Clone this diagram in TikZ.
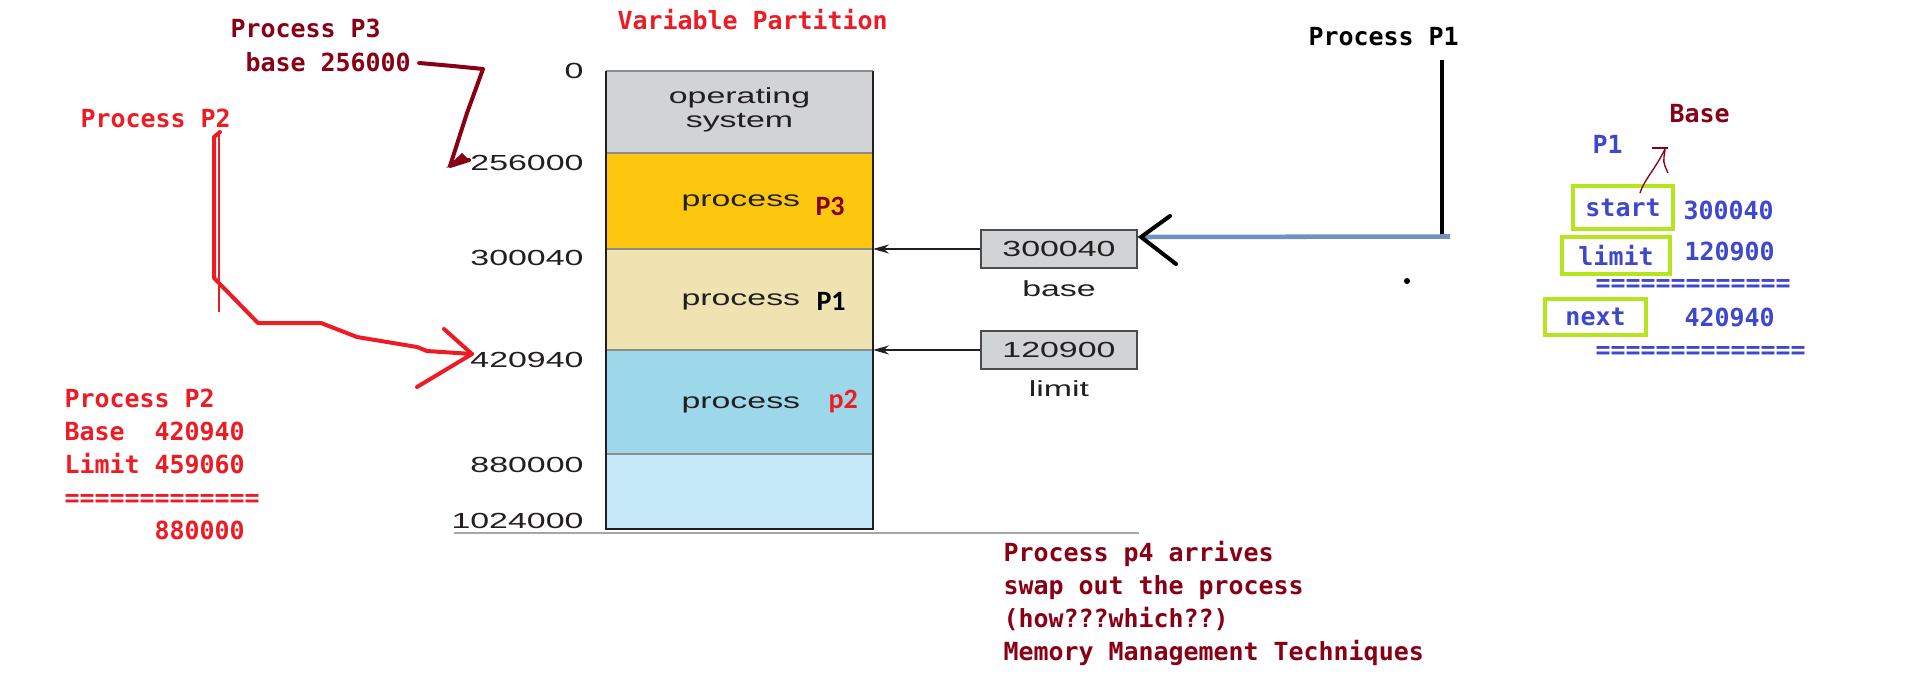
\documentclass[tikz,border=0pt]{standalone}
\usepackage{fontspec}
\usetikzlibrary{arrows.meta,positioning}
\newfontfamily\codefont{DejaVu Sans Mono}
\newfontfamily\figfont{Liberation Sans}[FakeStretch=1.55]
\newfontfamily\calfont{Carlito}
\definecolor{penred}{HTML}{ED1C24}
\definecolor{pendark}{HTML}{880015}
\definecolor{penblue}{HTML}{3F48CC}
\definecolor{penlime}{HTML}{B5E61D}
\definecolor{wire}{HTML}{7092BE}
\definecolor{osgray}{HTML}{D1D3D4}
\definecolor{pthree}{HTML}{FDC70F}
\definecolor{pone}{HTML}{EFE3B1}
\definecolor{ptwo}{HTML}{9CD8E9}
\definecolor{pfree}{HTML}{C6E9F9}
\definecolor{ink}{HTML}{231F20}

\tikzset{every picture/.style={line width=0.75pt}}
\tikzset{
  memtxt/.style={font=\figfont\fontsize{16.4}{18}\selectfont, text=ink, inner sep=0pt},
  note/.style={font=\codefont\bfseries\fontsize{18.7}{24.75}\selectfont, inner sep=0pt, anchor=west, align=left},
  pname/.style={font=\calfont\bfseries\fontsize{21}{24}\selectfont, inner sep=0pt, anchor=west},
  regbox/.style={memtxt, draw=black!70, fill=osgray, line width=1.2pt, minimum width=117pt, minimum height=28.5pt},
  tag/.style={note, anchor=center, draw=penlime, line width=3pt, text=penblue},
  regline/.style={draw=ink, line width=1.2pt, -{Stealth[length=12pt,width=6.75pt]}},
  pen/.style={line width=3pt, line cap=round, line join=round},
}

\begin{document}
\begin{tikzpicture}[x=0.75pt,y=0.75pt,yscale=-1,xscale=1]
\useasboundingbox (0,0) rectangle (1914,699);

% memory
\fill[osgray] (606,71) rectangle (873,153);
\fill[pthree] (606,153) rectangle (873,249);
\fill[pone] (606,249) rectangle (873,350);
\fill[ptwo] (606,350) rectangle (873,454);
\fill[pfree] (606,454) rectangle (873,529);
\foreach \y in {71,153,249,350,454}
  \draw[black!45, line width=1.5pt] (606,\y) -- (873,\y);
\draw[ink, line width=2pt] (606,71) -- (606,529) -- (873,529) -- (873,71);
\draw[black!35, line width=1.2pt] (454,533) -- (1139,533);
\coordinate (p1top) at (873,249);
\coordinate (p2top) at (873,350);

\node[memtxt, align=center] (ostxt) at (739.5,110) {operating\\system};
\node[memtxt, anchor=west] (t3) at (681,203) {process};
\node[pname, text=pendark] (n3) at (815,206) {P3};
\node[memtxt, anchor=west] (t1) at (681,302) {process};
\node[pname] (n1) at (816,301) {P1};
\node[memtxt, anchor=west] (t2) at (681,405) {process};
\node[pname, text=penred] (n2) at (828,402) {p2};

\node[memtxt, anchor=east] (a0) at (584,71) {0};
\node[memtxt, anchor=east] (a256) at (584,163) {256000};
\node[memtxt, anchor=east] (a300) at (584,258) {300040};
\node[memtxt, anchor=east] (a420) at (584,360) {420940};
\node[memtxt, anchor=east] (a880) at (584,465) {880000};
\node[memtxt, anchor=east] (a1024) at (584,521) {1024000};

% registers
\node[regbox] (basereg) at (1059,249) {300040};
\node[memtxt, below=8.5pt of basereg] (baselbl) {base};
\node[regbox] (limitreg) at (1059,350) {120900};
\node[memtxt, below=8pt of limitreg] (limitlbl) {limit};
\draw[regline] (basereg.west) -- (p1top);
\draw[regline] (limitreg.west) -- (p2top);

% notes
\node[note, text=penred] (title) at (617,20) {Variable Partition};
\node[note, text=pendark] (p3name) at (230,28) {Process P3};
\node[note, text=pendark] (p3base) at (245,62) {base 256000};
\node[note, text=penred] (p2name) at (80,118) {Process P2};
\node[note, text=penred] (p2note) at (64,464) {Process P2\\Base\ \ 420940\\Limit 459060\\=============\\\phantom{888888}880000};
\node[note, text=pendark] (p4note) at (1003,603) {Process p4 arrives\\swap out the process\\(how???which??)\\Memory Management Techniques};
\node[note] (p1name) at (1308,37) {Process P1};

% P1 register card
\node[note, text=pendark] (basehd) at (1669,114) {Base};
\node[note, text=penblue] (p1hd) at (1592,144) {P1};
\node[tag, minimum width=75pt, minimum height=32.25pt] (tstart) at (1623,207.5) {start};
\node[note, text=penblue] (vstart) at (1683,210) {300040};
\node[tag, minimum width=81pt, minimum height=27.75pt] (tlimit) at (1616,255.5) {limit};
\node[note, text=penblue] (vlimit) at (1684,251) {120900};
\node[note, text=penblue] (eqa) at (1595,285) {=============};
\node[tag, minimum width=75.75pt, minimum height=27pt] (tnext) at (1595.5,317) {next};
\node[note, text=penblue] (vnext) at (1684,317) {420940};
\node[note, text=penblue] (eqb) at (1595,352) {==============};
\draw[pendark, line width=1pt] (tstart.north) ++(17,9) .. controls (1644,180) and (1656,168) .. (1665,149);
\draw[pendark, line width=1pt] (1652,148) -- (1668,148);
\draw[pendark, line width=1pt] (1665,150) .. controls (1663,162) .. (1668,173);

% hand drawn arrows
\coordinate (tip3) at (469,160);
\draw[pen, pendark] (p3base.east) ++(8,1) -- (453,66) -- (483,69) -- (467,113) -- (450,166) -- (tip3);
\fill[pendark] (446,168) -- (462,153) -- (tip3) -- cycle;

\coordinate (tip2) at (472,354);
\draw[pen, penred] (220,132) -- (214,137) -- (214,278) -- (258,323) -- (321,323) -- (357,337) -- (417,347) -- (427,351) -- (tip2);
\draw[pen, penred] (444,329) -- (tip2) -- (417,387);
\draw[penred, line width=0.8pt] (219,133) -- (219,312);

\coordinate (ptip) at (1141,237);
\draw[black, line width=3.5pt] (1442,60) -- (1442,239);
\draw[wire, line width=3.4pt] (ptip) -- (1450,236.5);
\draw[black, line width=3pt, line cap=round] (1170,216) -- (ptip) -- (1176,264);
\fill (1407,281) circle (2.3pt);
\end{tikzpicture}
\end{document}
